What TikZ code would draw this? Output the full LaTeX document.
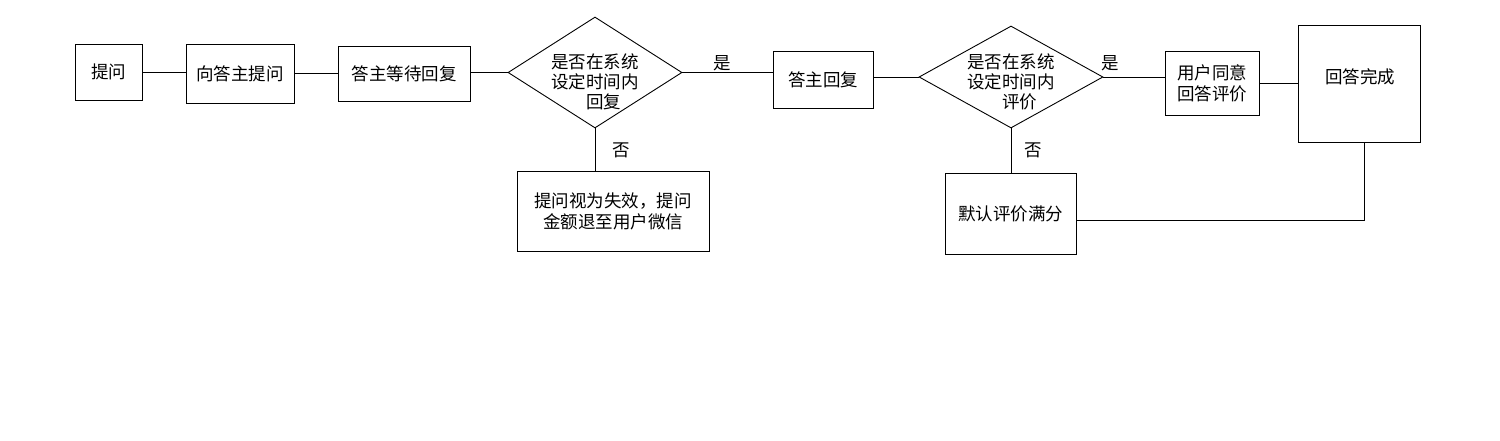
\documentclass[tikz,border=0pt]{standalone}
\usepackage{fontspec}
\newfontfamily\cjk{Noto Sans CJK SC}
\usetikzlibrary{shapes.geometric}
\begin{document}
\begin{tikzpicture}[x=1pt,y=-1pt, line width=0.9pt,
 box/.style={draw, rectangle, inner sep=0pt, font=\cjk\fontsize{17.5}{21}\selectfont, align=center},
 dia/.style={draw, diamond, inner sep=0pt},
 txt/.style={font=\cjk\fontsize{17.5}{20}\selectfont, align=center, inner sep=0pt}]
\useasboundingbox[fill=white] (0,0) rectangle (1500,440);
\node[box, minimum width=67pt, minimum height=56pt] (b1) at (108.5,72) {提问};
\node[box, minimum width=108pt, minimum height=59pt] (b2) at (240,73.5) {向答主提问};
\node[box, minimum width=132pt, minimum height=55pt] (b3) at (404,73.5) {答主等待回复};
\node[dia, minimum width=174pt, minimum height=111pt] (d1) at (595,72.5) {};
\node[txt] (d1t) at (595,82) {是否在系统\\设定时间内\\\hspace*{17pt}回复};
\node[box, minimum width=100pt, minimum height=57pt] (r1) at (823,79.5) {答主回复};
\node[box, minimum width=192pt, minimum height=80pt] (f1) at (613,211) {提问视为失效，提问\\金额退至用户微信};
\node[dia, minimum width=184pt, minimum height=102pt] (d2) at (1011,77) {};
\node[txt] (d2t) at (1011,82) {是否在系统\\设定时间内\\\hspace*{17pt}评价};
\node[box, minimum width=131pt, minimum height=81pt] (m) at (1010.5,213.5) {默认评价满分};
\node[box, minimum width=94pt, minimum height=64pt] (u) at (1212,83) {用户同意\\回答评价};
\node[box, minimum width=122pt, minimum height=117pt] (done) at (1359,83.5) {};
\node[txt] (donet) at (1360,77) {回答完成};
\node[txt] (y1) at (722,63) {是};
\node[txt] (y2) at (1110,63) {是};
\node[txt] (n1) at (621,150) {否};
\node[txt] (n2) at (1033,150) {否};
\draw (b1.east) -- (b1.east -| b2.west);
\draw (b2.east) -- (b2.east -| b3.west);
\draw (d1.west -| b3.east) -- (d1.west);
\draw (d1.east) -- (d1.east -| r1.west);
\draw (d2.west -| r1.east) -- (d2.west);
\draw (d1.south) -- (d1.south |- f1.north);
\draw (d2.south) -- (d2.south |- m.north);
\draw (d2.east) -- (d2.east -| u.west);
\draw (u.east) -- (u.east -| done.west);
\draw ([yshift=-6.5pt]m.east) -| ([xshift=5pt]done.south);
\end{tikzpicture}
\end{document}
